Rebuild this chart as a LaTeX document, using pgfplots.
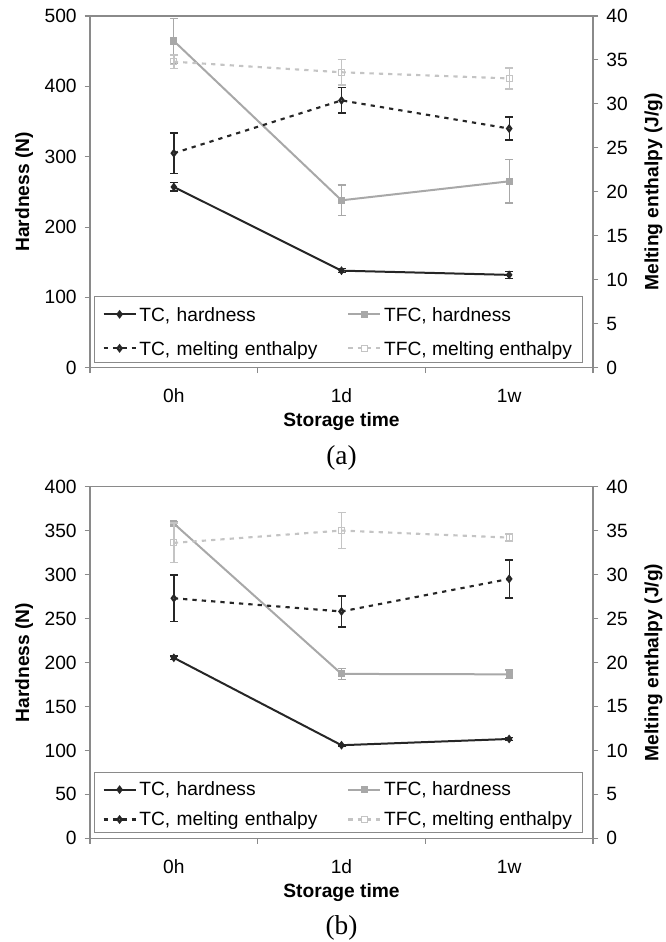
\documentclass[border=0pt]{standalone}
\usepackage{fontspec}
\setmainfont{Liberation Sans}
\newfontfamily\capfont{Liberation Serif}
\usepackage{pgfplots}
\usepackage{pgfplotstable}
\pgfplotsset{compat=1.18}
\newcommand\tf{\fontsize{14.4}{17}\selectfont}

% panel (a) data: x, value, error
\pgfplotstableread{
x y e
0 257 6
1 138 3
2 132 5
}\tcha
\pgfplotstableread{
x y e
0 464.5 32
1 238 22
2 265 31
}\tfcha
\pgfplotstableread{
x y e
0 24.4 2.3
1 30.4 1.45
2 27.2 1.3
}\tcma
\pgfplotstableread{
x y e
0 34.8 0.75
1 33.6 1.45
2 32.9 1.2
}\tfcma
% panel (b)
\pgfplotstableread{
x y e
0 205.3 2
1 105.9 1
2 113 2
}\tchb
\pgfplotstableread{
x y e
0 358 2
1 187 6
2 186.5 5
}\tfchb
\pgfplotstableread{
x y e
0 27.3 2.65
1 25.8 1.75
2 29.5 2.15
}\tcmb
\pgfplotstableread{
x y e
0 33.6 2.25
1 35.0 2.05
2 34.2 0.4
}\tfcmb

\definecolor{tcc}{HTML}{262626}
\definecolor{tfhc}{HTML}{A8A8A8}
\definecolor{tfmc}{HTML}{C4C4C4}
\definecolor{axc}{HTML}{8A8A8A}

\pgfplotsset{
  base/.style={scale only axis, width=377.25pt, height=263.8pt,
    xmin=-0.5, xmax=2.5, tick align=outside, major tick length=4pt,
    minor tick length=4pt,
    axis line style={draw=axc, line width=0.8pt},
    every tick/.style={draw=axc, line width=0.8pt},
    ticklabel style={font=\tf},
    /pgf/number format/assume math mode=true,
    label style={font=\bfseries\tf},
    clip=false},
  leftax/.style={base, xtick={0,1,2}, xticklabels={0h,1d,1w},
    major x tick style={draw=none},
    minor xtick={-0.5,0.5,1.5,2.5}, xtick pos=bottom, ytick pos=left,
    xticklabel style={anchor=base, yshift=-22pt},
    yticklabel style={xshift=-2.5pt},
    xlabel={Storage time},
    xlabel style={at={(axis description cs:0.5,-0.168)}, anchor=base},
    ylabel={Hardness (N)},
    ylabel style={at={(axis description cs:-0.131,0.5)}, anchor=center, rotate=0},
    legend columns=2, legend cell align=left,
    legend image code/.code={\draw[mark repeat=2,mark phase=2,##1] plot coordinates {(0pt,-1.5pt) (12pt,-1.5pt) (24pt,-1.5pt)};}},
  rightax/.style={base, axis y line*=right, axis x line=none,
    ymin=0, ymax=40, ytick={0,5,...,40},
    yticklabel style={xshift=2.5pt},
    ylabel={Melting enthalpy (J/g)},
    ylabel style={at={(axis description cs:1.12,0.5)}, anchor=center, rotate=0}},
  legbase/.style={legend style={at={(axis description cs:0,0)}, anchor=south west,
    xshift=3pt, yshift=3.75pt, draw=axc, line width=0.8pt, fill=white,
    inner xsep=6pt, column sep=0pt, font=\tf,
    nodes={inner sep=2pt, text depth=0pt},
    /tikz/column 2/.style={text width=154pt, align=left}}},
  tch/.style={color=tcc, line width=1.5pt, mark=diamond*, mark size=2.1pt,
    mark options={solid, fill=tcc},
    error bars/.cd, y dir=both, y explicit,
    error bar style={line width=1pt, color=tcc, solid},
    error mark options={rotate=90, mark size=3pt, line width=1pt, color=tcc, solid}},
  tfch/.style={color=tfhc, line width=1.5pt, mark=square*, mark size=1.9pt,
    mark options={solid, fill=tfhc},
    error bars/.cd, y dir=both, y explicit,
    error bar style={line width=1pt, color=tfhc, solid},
    error mark options={rotate=90, mark size=3pt, line width=1pt, color=tfhc, solid}},
  tcm/.style={color=tcc, line width=1.6pt, dash pattern=on 3.2pt off 3.8pt,
    mark=diamond*, mark size=2.1pt, mark options={solid, fill=tcc!70!white},
    error bars/.cd, y dir=both, y explicit,
    error bar style={line width=1pt, color=tcc, solid},
    error mark options={rotate=90, mark size=3pt, line width=1pt, color=tcc, solid}},
  tfcm/.style={color=tfmc, line width=1.6pt, dash pattern=on 3.2pt off 3.8pt,
    mark=square, mark size=2.2pt, mark options={solid, fill=white, line width=0.8pt},
    error bars/.cd, y dir=both, y explicit,
    error bar style={line width=1pt, color=tfmc, solid},
    error mark options={rotate=90, mark size=3pt, line width=1pt, color=tfmc, solid}},
}

\begin{document}
\begin{tikzpicture}
% ---------- panel (a) ----------
\begin{axis}[leftax, at={(0pt,0pt)}, anchor=south west,
  ymin=0, ymax=500, ytick={0,100,...,500}, legbase,
  legend style={inner ysep=2.9pt, row sep=7.5pt, nodes={text height=14pt}}]
\addplot[tch] table[x=x, y=y, y error=e] {\tcha};
\addlegendentry{TC, hardness}
\addplot[tfch] table[x=x, y=y, y error=e] {\tfcha};
\addlegendentry{TFC, hardness}
\addlegendimage{color=tcc, line width=1.6pt, dash pattern=on 3.2pt off 3.8pt, mark=diamond*, mark size=2.1pt, mark options={solid, fill=tcc!70!white}}
\addlegendentry{TC, melting enthalpy}
\addlegendimage{color=tfmc, line width=1.6pt, dash pattern=on 3.2pt off 3.8pt, mark=square, mark size=2.2pt, mark options={solid, fill=white, line width=0.8pt}}
\addlegendentry{TFC, melting enthalpy}
\node[font=\capfont\fontsize{20.5}{24}\selectfont, anchor=base] at (axis description cs:0.5,-0.274) {(a)};
\end{axis}
\begin{axis}[rightax, at={(0pt,0pt)}, anchor=south west]
\addplot[tcm] table[x=x, y=y, y error=e] {\tcma};
\addplot[tfcm] table[x=x, y=y, y error=e] {\tfcma};
\end{axis}
% ---------- panel (b) ----------
\begin{axis}[leftax, at={(0pt,-352.95pt)}, anchor=south west,
  ymin=0, ymax=400, ytick={0,50,...,400}, legbase,
  legend style={inner ysep=3.3pt, row sep=6pt, nodes={text height=12.4pt}}]
\addplot[tch] table[x=x, y=y, y error=e] {\tchb};
\addlegendentry{TC, hardness}
\addplot[tfch] table[x=x, y=y, y error=e] {\tfchb};
\addlegendentry{TFC, hardness}
\addlegendimage{color=tcc, line width=1.6pt, dash pattern=on 3.2pt off 3.8pt, mark=diamond*, mark size=2.1pt, mark options={solid, fill=tcc!70!white}}
\addlegendentry{TC, melting enthalpy}
\addlegendimage{color=tfmc, line width=1.6pt, dash pattern=on 3.2pt off 3.8pt, mark=square, mark size=2.2pt, mark options={solid, fill=white, line width=0.8pt}}
\addlegendentry{TFC, melting enthalpy}
\node[font=\capfont\fontsize{20.5}{24}\selectfont, anchor=base] at (axis description cs:0.5,-0.274) {(b)};
\end{axis}
\begin{axis}[rightax, at={(0pt,-352.95pt)}, anchor=south west]
\addplot[tcm] table[x=x, y=y, y error=e] {\tcmb};
\addplot[tfcm] table[x=x, y=y, y error=e] {\tfcmb};
\end{axis}
\pgfresetboundingbox
\path (-67.5pt,275.8pt) rectangle (432pt,-430.7pt);
\end{tikzpicture}
\end{document}
